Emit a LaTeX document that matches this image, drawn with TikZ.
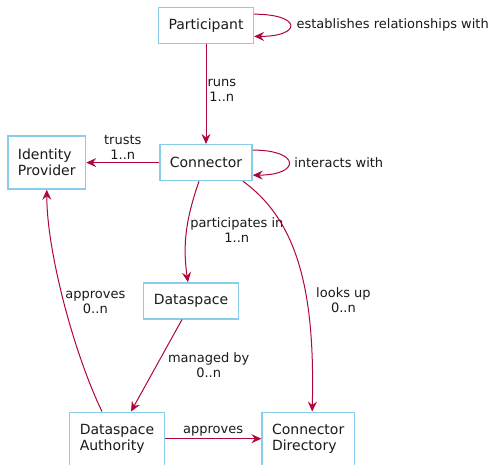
\documentclass[tikz,border=0pt]{standalone}
\usepackage{fontspec}
\setmainfont{DejaVu Sans}
\usepackage{tikz}
\usetikzlibrary{positioning,arrows.meta}
\usepackage{xcolor}
\definecolor{dsText}{HTML}{1A1A1A}
\definecolor{dsBorder}{HTML}{87CEEB}
\definecolor{dsEdge}{HTML}{B0063A}

\begin{document}
\begin{tikzpicture}[
          x=1pt, y=1pt,
          box/.style={draw=dsBorder,line width=1.3pt,text=dsText,fill=white,
                      inner xsep=10pt,minimum height=36pt,align=left,
                      font=\fontsize{14}{16}\selectfont},
          tall/.style={box,minimum height=53pt},
          lbl/.style={font=\fontsize{13}{15}\selectfont,text=dsText,align=center,inner sep=2pt},
          arr/.style={-{Stealth[length=10pt,width=9pt,inset=3.5pt]},line width=1pt,dsEdge}]
        \useasboundingbox (0,0) rectangle (501,-465);
        \node[box] (participant) at (206,-25.3) {Participant};
        \node[box,below=100pt of participant] (connector) {Connector};
        \node[tall,left=73pt of connector] (identity) {Identity\\Provider};
        \node[box,below=101pt of connector,xshift=-15pt] (dataspace) {Dataspace};
        \node[tall,below=92pt of dataspace,xshift=-74pt] (authority) {Dataspace\\Authority};
        \node[tall,right=96.5pt of authority] (directory) {Connector\\Directory};
        % self loops
        \draw[arr] (participant.13) .. controls +(48,0) and +(48,0)
              .. node[right,lbl,inner sep=6pt]{establishes relationships with} (participant.-13);
        \draw[arr] (connector.15) .. controls +(48,0) and +(48,0)
              .. node[right,lbl,inner sep=5pt]{interacts with} (connector.-15);
        % relations
        \draw[arr] (participant) -- node[right,lbl,pos=0.46,inner sep=1pt]{runs\\1..n} (connector);
        \draw[arr] (connector) -- node[above,lbl,inner sep=3pt]{trusts\\1..n} (identity);
        \draw[arr] ([xshift=-7pt]connector.south) .. controls +(-12,-35) and +(-6,40)
              .. node[right,lbl,inner sep=3pt]{participates in\\1..n} ([xshift=-3pt]dataspace.north);
        \draw[arr] ([xshift=37pt]connector.south) .. controls +(55,-40) and +(3,120)
              .. node[right,lbl,pos=0.64,inner sep=9pt]{looks up\\0..n} ([xshift=4pt]directory.north);
        \draw[arr] ([xshift=-15pt]authority.north) .. controls +(-28,58) and +(0,-62)
              .. node[right,lbl,pos=0.5,inner sep=1pt]{approves\\0..n} (identity.south);
        \draw[arr] ([xshift=-9pt]dataspace.south) -- node[right=9pt,lbl]{managed by\\0..n} ([xshift=14pt]authority.north);
        \draw[arr] (authority) -- node[above,lbl]{approves} (directory);
      \end{tikzpicture}
\end{document}
